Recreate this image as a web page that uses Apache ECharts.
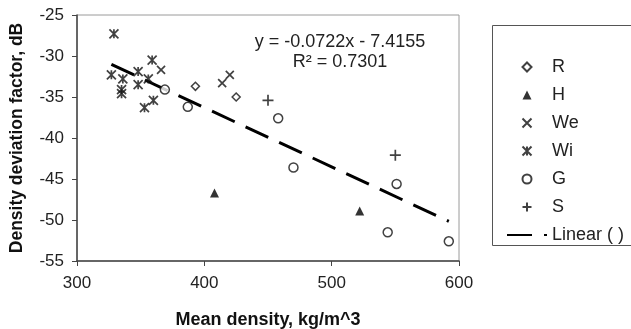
<!DOCTYPE html>
<html>
<head>
<meta charset="utf-8">
<script src="https://cdn.jsdelivr.net/npm/echarts@6/dist/echarts.min.js"></script>
<style>html,body{margin:0;padding:0;background:#fff;}#c{width:631px;height:329px;}</style>
</head>
<body>
<div id="c"></div>
<script>
// ---- data ----
const rX = [393, 425];
const rY = [-33.7, -35.0];
const hX = [408, 522];
const hY = [-46.7, -48.9];
const weX = [366, 414, 420];
const weY = [-31.7, -33.3, -32.3];
const wiX = [329, 327, 336, 335, 335, 348, 348, 353, 360, 359, 356];
const wiY = [-27.3, -32.3, -32.8, -34.1, -34.6, -31.9, -33.5, -36.3, -35.4, -30.5, -32.8];
const gX = [369, 387, 458, 470, 551, 544, 592];
const gY = [-34.1, -36.2, -37.6, -43.6, -45.6, -51.5, -52.6];
const sX = [450, 550];
const sY = [-35.4, -42.1];
const slope = -0.0722;
const intercept = -7.4155;
const r2 = 0.7301;
const seriesNames = ['R', 'H', 'We', 'Wi', 'G', 'S', 'Linear ( )'];
const xTicks = [300, 400, 500, 600];
const yTicks = [-55, -50, -45, -40, -35, -30, -25];

function pairs(xs, ys) { return xs.map((x, i) => [x, ys[i]]); }
const allX = [].concat(rX, hX, weX, wiX, gX, sX);
const xMin = Math.min.apply(null, allX), xMax = Math.max.apply(null, allX);
const trend = [[xMin, slope * xMin + intercept], [xMax, slope * xMax + intercept]];

const SYM = {
  diamond: 'path://M5,0L10,5L5,10L0,5Z',
  triangle: 'path://M5,0L10,10L0,10Z',
  cross: 'path://M0,0L10,10M10,0L0,10',
  star: 'path://M0,0L10,10M10,0L0,10M5,0L5,10',
  circle: 'path://M10,5A5,5,0,1,1,0,5A5,5,0,1,1,10,5Z',
  plus: 'path://M5,0L5,10M0,5L10,5'
};
const FONT = 'Liberation Sans, Arial, sans-serif';
const hollow = { color: '#fff', borderColor: '#111', borderWidth: 1.5 };
const open = { color: 'rgba(0,0,0,0)', borderColor: '#111', borderWidth: 1.7 };

const chart = echarts.init(document.getElementById('c'), null, { renderer: 'canvas' });
chart.setOption({
  animation: false,
  backgroundColor: '#fff',
  textStyle: { fontFamily: FONT },
  grid: { left: 77, right: 172, top: 15, bottom: 68, outerBoundsMode: 'none', containLabel: false,
    show: true, borderColor: '#9a9a9a', borderWidth: 1, backgroundColor: 'transparent' },
  xAxis: {
    type: 'value', min: xTicks[0], max: xTicks[xTicks.length - 1], interval: 100,
    name: 'Mean density, kg/m^3', nameLocation: 'middle', nameGap: 50,
    nameTextStyle: { fontFamily: FONT, fontWeight: 'bold', fontSize: 18, color: '#111' },
    axisLine: { lineStyle: { color: '#444', width: 1.5 } },
    axisTick: { show: true, length: 5, inside: false, lineStyle: { color: '#444' } },
    axisLabel: { fontFamily: FONT, fontSize: 17, color: '#222', margin: 14 },
    splitLine: { show: false }
  },
  yAxis: {
    type: 'value', min: yTicks[0], max: yTicks[yTicks.length - 1], interval: 5,
    name: 'Density deviation factor, dB', nameLocation: 'middle', nameGap: 51, nameRotate: 90,
    nameTextStyle: { fontFamily: FONT, fontWeight: 'bold', fontSize: 17.5, color: '#111' },
    axisLine: { lineStyle: { color: '#444', width: 1.5 } },
    axisTick: { show: true, length: 5, inside: false, lineStyle: { color: '#444' } },
    axisLabel: { fontFamily: FONT, fontSize: 17, color: '#222', margin: 13 },
    splitLine: { show: false }
  },
  legend: {
    orient: 'vertical', left: 492, top: 25,
    padding: [32, 10, 0, 14],
    itemWidth: 40, itemHeight: 9, itemGap: 8,
    textStyle: { fontFamily: FONT, fontSize: 18, color: '#222', lineHeight: 20 },
    data: seriesNames.slice(0, 6).concat([{ name: seriesNames[6], itemStyle: { opacity: 0, color: 'rgba(0,0,0,0)', borderWidth: 0 } }])
  },
  graphic: [
    { type: 'rect', z: -1, shape: { x: 492.5, y: 25.5, width: 200, height: 220 },
      style: { fill: '#fff', stroke: '#555', lineWidth: 1 } },
    { type: 'text', x: 340, y: 32,
      style: { text: 'y = -0.0722x - 7.4155\nR² = ' + r2.toFixed(4), fontFamily: FONT, fontSize: 18, lineHeight: 20, fill: '#222', align: 'center' } }
  ],
  series: [
    { name: seriesNames[0], type: 'scatter', symbol: SYM.diamond, symbolSize: 8, symbolKeepAspect: true, itemStyle: hollow, data: pairs(rX, rY), z: 3 },
    { name: seriesNames[1], type: 'scatter', symbol: SYM.triangle, symbolSize: 9, symbolKeepAspect: true, itemStyle: { color: '#000', borderWidth: 0 }, data: pairs(hX, hY), z: 3 },
    { name: seriesNames[2], type: 'scatter', symbol: SYM.cross, symbolSize: 8, itemStyle: open, data: pairs(weX, weY), z: 3 },
    { name: seriesNames[3], type: 'scatter', symbol: SYM.star, symbolSize: 9, itemStyle: open, data: pairs(wiX, wiY), z: 3 },
    { name: seriesNames[4], type: 'scatter', symbol: SYM.circle, symbolSize: 9, itemStyle: hollow, data: pairs(gX, gY), z: 3 },
    { name: seriesNames[5], type: 'scatter', symbol: SYM.plus, symbolSize: 11, itemStyle: open, data: pairs(sX, sY), z: 3 },
    { name: seriesNames[6], type: 'line', symbol: 'none', data: trend, z: 2,
      itemStyle: { color: '#000' },
      lineStyle: { color: '#000', width: 3, type: [25, 12] } }
  ]
});
</script>
</body>
</html>
